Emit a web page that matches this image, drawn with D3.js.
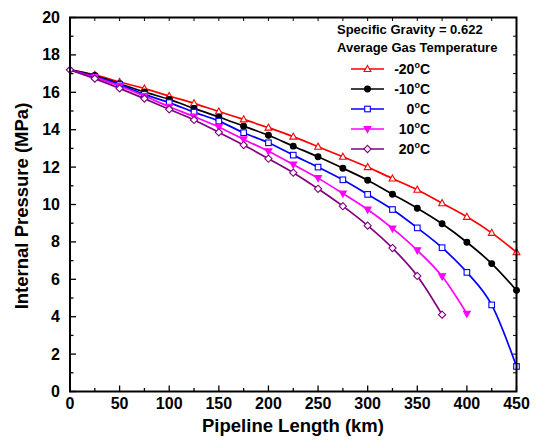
<!DOCTYPE html>
<html><head><meta charset="utf-8">
<script src="https://cdn.jsdelivr.net/npm/d3@7"></script>
<style>body{margin:0;background:#fff}svg text{font-family:"Liberation Sans",Arial,sans-serif;font-weight:bold}</style>
</head><body><svg id="c" width="538" height="443"></svg>
<script>
const distances = [0,25,50,75,100,125,150,175,200,225,250,275,300,325,350,375,400,425,450];
const seriesNames = ["-20","-10","0","10","20"];
const red    = [17.2,16.93,16.55,16.2,15.8,15.41,14.97,14.55,14.11,13.63,13.09,12.55,12.0,11.39,10.79,10.07,9.34,8.48,7.45];
const black  = [17.2,16.9,16.46,16.02,15.62,15.14,14.68,14.19,13.7,13.12,12.55,11.94,11.3,10.55,9.8,8.97,7.98,6.84,5.41];
const blue   = [17.2,16.85,16.41,15.89,15.45,14.94,14.46,13.84,13.3,12.64,12.0,11.32,10.54,9.73,8.75,7.69,6.37,4.63,1.34];
const magenta= [17.2,16.8,16.34,15.8,15.23,14.7,14.14,13.48,12.85,12.14,11.41,10.59,9.73,8.72,7.55,6.16,4.16];
const purple = [17.2,16.73,16.21,15.66,15.09,14.52,13.86,13.18,12.45,11.7,10.84,9.91,8.87,7.67,6.18,4.11];
const xTicks = [0,50,100,150,200,250,300,350,400,450];
const yTicks = [0,2,4,6,8,10,12,14,16,18,20];

const colors = ["#ff0000","#000000","#0000ff","#ff00ff","#800080"];
const symbols = ["triUp","circle","square","triDown","diamond"];
const filled = [false,true,false,true,false];
const allVals = [red,black,blue,magenta,purple];

const svg = d3.select("#c");
const L=70,R=516.5,T=17.5,B=391.5;
const x = d3.scaleLinear().domain([0,450]).range([L,R]);
const y = d3.scaleLinear().domain([0,20]).range([B,T]);

function marker(g, type, cx, cy, color, fill){
  const s=2.8;
  let el;
  if(type==="circle") el=g.append("circle").attr("cx",cx).attr("cy",cy).attr("r",2.9);
  else if(type==="square") el=g.append("rect").attr("x",cx-s).attr("y",cy-s).attr("width",2*s).attr("height",2*s);
  else if(type==="triUp") el=g.append("path").attr("d",`M${cx},${cy-3.6}L${cx+3.4},${cy+2.5}L${cx-3.4},${cy+2.5}Z`);
  else if(type==="triDown") el=g.append("path").attr("d",`M${cx},${cy+3.6}L${cx+3.4},${cy-2.5}L${cx-3.4},${cy-2.5}Z`);
  else el=g.append("path").attr("d",`M${cx},${cy-3.6}L${cx+3.6},${cy}L${cx},${cy+3.6}L${cx-3.6},${cy}Z`);
  el.attr("fill",fill?color:"#fff").attr("stroke",color).attr("stroke-width",1.1);
}

const line = d3.line().x(d=>x(d[0])).y(d=>y(d[1])).curve(d3.curveMonotoneX);
allVals.forEach((vals,i)=>{
  const pts = vals.map((v,j)=>[distances[j],v]);
  svg.append("path").attr("d",line(pts)).attr("fill","none").attr("stroke",colors[i]).attr("stroke-width",1.7);
});
allVals.forEach((vals,i)=>{
  const g=svg.append("g");
  vals.forEach((v,j)=>{ if(j>0 || i===4) marker(g,symbols[i],x(distances[j]),y(v),colors[i],filled[i]); });
});

// axes
const ax = svg.append("g").attr("stroke","#000");
ax.append("rect").attr("x",L).attr("y",T).attr("width",R-L).attr("height",B-T).attr("fill","none").attr("stroke-width",2);
d3.range(0,451,25).forEach(v=>{
  const len = v%50===0?6:3.5;
  ax.append("line").attr("x1",x(v)).attr("x2",x(v)).attr("y1",B).attr("y2",B-len).attr("stroke-width",1.3);
  ax.append("line").attr("x1",x(v)).attr("x2",x(v)).attr("y1",T).attr("y2",T+3.5).attr("stroke-width",1);
});
d3.range(0,21,1).forEach(v=>{
  const len = v%2===0?6:3.5;
  ax.append("line").attr("x1",L).attr("x2",L+len).attr("y1",y(v)).attr("y2",y(v)).attr("stroke-width",1.3);
  ax.append("line").attr("x1",R).attr("x2",R-3.5).attr("y1",y(v)).attr("y2",y(v)).attr("stroke-width",1);
});
xTicks.forEach(v=>{
  svg.append("text").attr("x",x(v)).attr("y",409).attr("text-anchor","middle").attr("font-size",16).text(v);
});
yTicks.forEach(v=>{
  svg.append("text").attr("x",60).attr("y",y(v)+5.5).attr("text-anchor","end").attr("font-size",16).text(v);
});
svg.append("text").attr("x",293).attr("y",432).attr("text-anchor","middle").attr("font-size",18.5).text("Pipeline Length (km)");
svg.append("text").attr("transform","translate(28,206) rotate(-90)").attr("text-anchor","middle").attr("font-size",18.5).text("Internal Pressure (MPa)");

// legend
svg.append("text").attr("x",337).attr("y",34).attr("font-size",13).text("Specific Gravity = 0.622");
svg.append("text").attr("x",337).attr("y",52).attr("font-size",13).text("Average Gas Temperature");
const ly=[69,89,109,129,149];
seriesNames.forEach((n,i)=>{
  svg.append("line").attr("x1",351).attr("x2",384).attr("y1",ly[i]).attr("y2",ly[i]).attr("stroke",colors[i]).attr("stroke-width",1.7);
  marker(svg,symbols[i],367.5,ly[i],colors[i],filled[i]);
  const t=svg.append("text").attr("x",430).attr("y",ly[i]+5).attr("text-anchor","end").attr("font-size",14);
  t.append("tspan").text(n);
  t.append("tspan").attr("dy",-6).attr("font-size",9).text("o");
  t.append("tspan").attr("dy",6).text("C");
});
</script></body></html>
